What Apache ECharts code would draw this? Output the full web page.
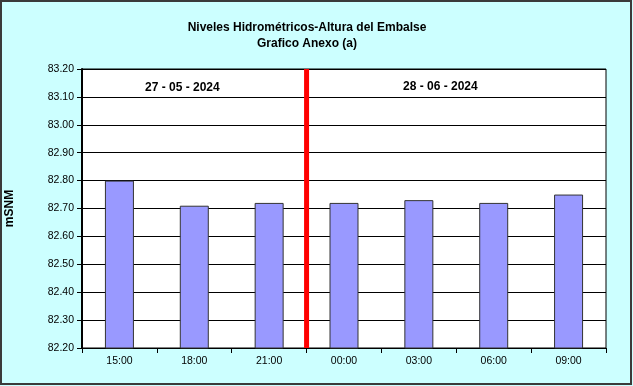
<!DOCTYPE html>
<html>
<head>
<meta charset="utf-8">
<script src="https://cdn.jsdelivr.net/npm/echarts@6/dist/echarts.min.js"></script>
<style>
html,body{margin:0;padding:0;background:#CCFFFF;}
#c{width:633px;height:386px;}
</style>
</head>
<body>
<div id="c"></div>
<script>
var categories = ['15:00','18:00','21:00','00:00','03:00','06:00','09:00'];
var levels = [82.80, 82.71, 82.72, 82.72, 82.73, 82.72, 82.75];
var dividerAt = [3];
var dateLabels = ['27 - 05 - 2024', '28 - 06 - 2024'];
var yMin = 82.2, yMax = 83.2, yStep = 0.1;

var chart = echarts.init(document.getElementById('c'));
var dividerData = [];
dividerAt.forEach(function(v){ dividerData.push([v, yMin], [v, yMax]); });

chart.setOption({
  backgroundColor: '#CCFFFF',
  animation: false,
  title: {
    text: 'Niveles Hidrométricos-Altura del Embalse\nGrafico Anexo (a)',
    left: 302, top: 15, textAlign: 'center',
    textStyle: {fontFamily: 'Liberation Sans, Arial', fontSize: 12, fontWeight: 'bold', color: '#000', lineHeight: 16}
  },
  graphic: [
    {type: 'rect', shape: {x: 1, y: 1, width: 630, height: 383}, style: {fill: 'none', stroke: '#3a3a3a', lineWidth: 2}, silent: true},
    {type: 'text', left: 145, top: 82, style: {text: dateLabels[0], font: 'bold 12px "Liberation Sans", Arial', fill: '#000'}, z: 10},
    {type: 'text', left: 403, top: 81, style: {text: dateLabels[1], font: 'bold 12px "Liberation Sans", Arial', fill: '#000'}, z: 10}
  ],
  grid: {left: 82, top: 69, width: 524, height: 279, show: true, backgroundColor: '#fff', borderColor: '#000', borderWidth: 1,
    containLabel: false, outerBoundsMode: 'none'},
  xAxis: [
    {
      type: 'category', data: categories,
      axisLine: {lineStyle: {color: '#000', width: 1}},
      axisTick: {show: true, length: 5, lineStyle: {color: '#000'}},
      axisLabel: {color: '#000', fontSize: 10.5, fontFamily: 'Liberation Sans, Arial', margin: 8}
    },
    {type: 'value', min: 0, max: categories.length, show: false}
  ],
  yAxis: {
    type: 'value', min: yMin, max: yMax, interval: yStep,
    name: 'mSNM', nameLocation: 'middle', nameGap: 66, nameRotate: 90,
    nameTextStyle: {fontFamily: 'Liberation Sans, Arial', fontSize: 12, fontWeight: 'bold', color: '#000'},
    axisLine: {show: true, lineStyle: {color: '#000', width: 2}},
    axisTick: {show: true, length: 5, lineStyle: {color: '#000'}},
    axisLabel: {color: '#000', fontSize: 10.5, fontFamily: 'Liberation Sans, Arial', margin: 8,
      formatter: function(v){ return v.toFixed(2); }},
    splitLine: {show: true, lineStyle: {color: '#000', width: 1}}
  },
  series: [
    {
      type: 'bar', data: levels, barWidth: 29,
      itemStyle: {color: '#9999FF', borderColor: '#333', borderWidth: 1},
      z: 2
    },
    {
      type: 'line', xAxisIndex: 1, data: dividerData,
      symbol: 'none', lineStyle: {color: '#FF0000', width: 5}, z: 5, silent: true
    }
  ]
});
</script>
</body>
</html>
